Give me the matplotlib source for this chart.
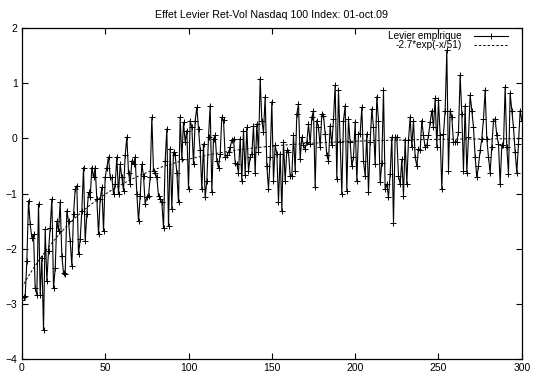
from matplotlib import pyplot as plt
from matplotlib import rcParams
import numpy as np

rcParams['font.family'] = ['Liberation Sans', 'DejaVu Sans']
rcParams['font.size'] = 7.5

# leverage values, x = 0..300
seg1 = [-2.92, -2.88, -2.86, -2.22, -1.13, -1.56, -1.80, -1.74, -2.71, -2.83,
        -1.19, -2.83, -2.16, -3.47, -1.65, -2.59, -2.04, -1.62, -1.10, -2.71,
        -2.35, -1.50, -1.68, -1.16, -2.13, -2.44, -2.45, -1.31, -1.50, -1.86,
        -2.31, -1.38, -0.92, -0.86, -2.10, -1.83, -1.31, -0.53, -1.86, -1.38,
        -0.98, -1.07, -0.53, -0.71, -0.53, -1.10, -1.74, -1.10, -0.89, -1.68,
        -0.71, -0.53, -0.34, -0.71, -0.71, -1.01, -0.83]
seg2 = [-0.34, -1.01, -0.47, -0.71, -0.95, -0.31, 0.02, -0.62, -0.83, -0.41,
        -0.47, -0.34, -1.01, -1.50, -1.04, -0.47, -0.68, -1.19, -1.07, -1.04,
        -0.71, 0.38, -0.59, -0.62, -0.71, -1.04, -1.10, -1.16, -1.62, -0.41,
        0.17, -1.59, -0.19, -1.28, -0.25, -0.31, -0.62, -1.16, 0.38, -0.37,
        0.29, -0.07, 0.14, -0.92, 0.32, 0.20, -0.47, 0.32, 0.56, 0.17,
        -0.22]
seg3 = [-0.92, -0.10, -1.07, -0.77, 0.02, 0.59, -0.98, -0.01, 0.05, -0.41,
        -0.53, -0.28, 0.38, 0.33, -0.34, -0.31, -0.25, -0.16, -0.04, -0.01,
        -0.44, -0.47, -0.62, -0.01, -0.77, 0.14, -0.66, 0.20, -0.59, -0.34,
        -0.28, 0.23, -0.62, 0.26, -0.25, 1.08, 0.32, 0.11, 0.75, -0.50,
        -0.92, -0.34, 0.66, -0.77, -0.13, -0.28, -1.16, -0.28, -1.31, -0.07,
        -0.77]
seg4 = [-0.22, -0.25, -0.68, -0.68, 0.05, -0.59, 0.44, 0.62, -0.38, 0.02,
        -0.13, -0.19, -0.07, 0.26, -0.10, 0.38, 0.50, -0.89, 0.32, 0.20,
        -0.16, 0.44, 0.41, 0.08, -0.31, -0.41, 0.23, -0.13, 0.35, 0.96,
        -0.74, 0.87, -0.07, -1.01, 0.32, 0.59, -0.95, 0.35, -0.07, -0.50,
        -0.34, 0.29, -0.77, 0.08, 0.08, 0.56, -0.41, -0.68, 0.08, -0.98,
        -0.07]
seg5 = [0.53, 0.20, -0.47, 0.75, 0.32, -0.80, -0.44, 0.87, -0.92, -0.83,
        -1.07, -0.65, 0.02, -1.53, 0.02, 0.02, -0.68, -0.83, -0.38, -1.04,
        -0.04, -0.83, -0.04, 0.38, -0.16, 0.32, -0.34, -0.50, -0.19, -0.22,
        0.32, 0.05, -0.16, -0.13, 0.05, 0.29, 0.50, 0.20, 0.72, -0.16,
        0.69, 0.05, -0.92, 0.08, 0.50, 1.59, -0.59, 0.50, 0.38, -0.07]
seg6 = [-0.07, -0.07, 0.11, 1.14, 0.44, -0.59, 0.59, -0.62, 0.02, 0.78,
        0.50, 0.20, -0.34, -0.71, -0.50, -0.22, -0.01, 0.35, 0.87, -0.01,
        -0.34, -0.62, -0.16, 0.32, 0.35, 0.05, -0.10, -0.83, -0.13, -0.13,
        0.93, -0.16, -0.65, 0.81, 0.50, 0.20, -0.25, -0.62, -0.10, 0.50,
        0.32]
levier = np.array(seg1 + seg2 + seg3 + seg4 + seg5 + seg6)
lags = np.arange(len(levier))

amp = -2.7
tau = 51
fit = amp*np.exp(-lags/tau)

fig = plt.figure(figsize=(5.33, 3.75), dpi=100)
ax = fig.add_axes([0.041, 0.042, 0.938, 0.884])
ax.plot(lags, levier, '-k', linewidth=0.8, marker='+', markersize=4.5,
        markeredgewidth=0.7)
ax.plot(lags, fit, color='k', linestyle=(0, (2.5, 2)), linewidth=0.7)
ax.set_xlim(0, 300)
ax.set_ylim(-4, 2)
ax.set_xticks(np.arange(0, 301, 50))
ax.set_yticks(np.arange(-4, 3, 1))
ax.tick_params(direction='in', top=True, right=True, length=4, width=0.8, pad=3)
for s in ax.spines.values():
    s.set_linewidth(0.9)
ax.set_title('Effet Levier Ret-Vol Nasdaq 100 Index: 01-oct.09', fontsize=7.7, pad=7)

# gnuplot-style key: right-aligned labels, sample to the right
tr = ax.transAxes
ax.text(0.880, 0.975, 'Levier empirique', transform=tr, ha='right', va='center', fontsize=7.2)
ax.plot([0.904, 0.972], [0.975, 0.975], transform=tr, color='k', linewidth=0.8)
ax.plot([0.938], [0.975], transform=tr, color='k', marker='+', markersize=4.5,
        markeredgewidth=0.7)
ax.text(0.880, 0.948, '-2.7*exp(-x/51)', transform=tr, ha='right', va='center', fontsize=7.2)
ax.plot([0.904, 0.972], [0.948, 0.948], transform=tr, color='k',
        linestyle=(0, (2.5, 2)), linewidth=0.7)

fig.savefig('out.png', dpi=100)
